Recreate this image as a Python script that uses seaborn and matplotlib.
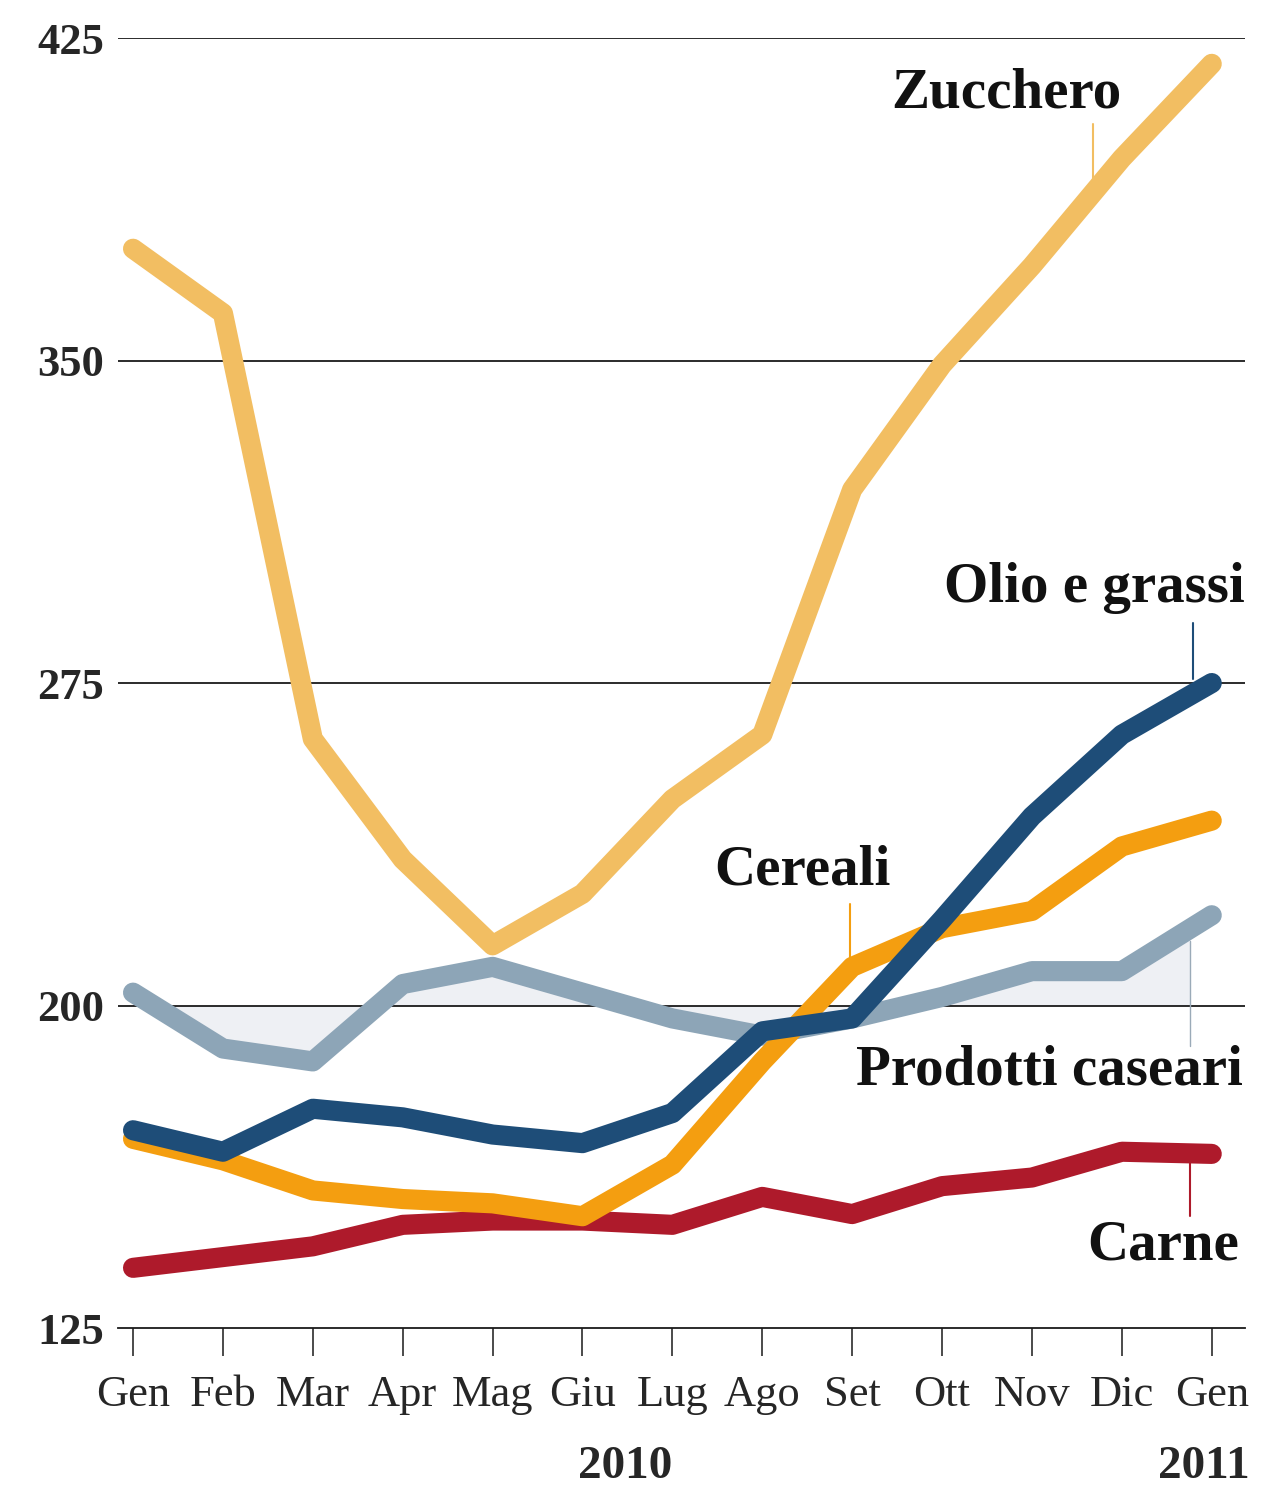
import numpy as np
import pandas as pd
import matplotlib
matplotlib.use("Agg")
import matplotlib.pyplot as plt
from matplotlib.patches import Rectangle
import seaborn as sns

months = ["Gen", "Feb", "Mar", "Apr", "Mag", "Giu", "Lug", "Ago", "Set", "Ott", "Nov", "Dic", "Gen"]
zucchero = [376, 361, 262, 234, 214, 226, 248, 263, 320, 349, 372, 397, 419]
olio = [171, 166, 176, 174, 170, 168, 175, 194, 197, 220, 244, 263, 275]
cereali = [169, 164, 157, 155, 154, 151, 163, 187, 209, 218, 222, 237, 243]
caseari = [203, 190, 187, 205, 209, 203, 197, 193, 197, 202, 208, 208, 221]
carne = [139, 141.5, 144, 149, 150, 150, 149, 155.5, 151.5, 158, 160, 166, 165.5]
yticks = [125, 200, 275, 350, 425]

sns.set_theme(style="white")
plt.rcParams["font.family"] = ["Liberation Serif", "DejaVu Serif"]

fig = plt.figure(figsize=(12.61, 14.86), dpi=100)
ax = fig.add_axes([0.0936, 0.1063, 0.8937, 0.8681])

x = np.arange(len(months))
series = [
    ("Zucchero", zucchero, "#F2BE62", 3),
    ("Carne", carne, "#AE1A2B", 4),
    ("Prodotti caseari", caseari, "#8DA5B7", 5),
    ("Cereali", cereali, "#F49E10", 6),
    ("Olio e grassi", olio, "#1E4D78", 7),
]

# fill between caseari and 200
fill = ax.fill_between(x, caseari, 200, color="#EEF0F4", zorder=1, linewidth=0)
fill.set_clip_path(Rectangle((-1, 0), 12.76, 600, transform=ax.transData))

for name, vals, col, z in series:
    df = pd.DataFrame({"x": x, "y": vals})
    sns.lineplot(data=df, x="x", y="y", ax=ax, color=col, linewidth=14.5,
                 zorder=z, solid_capstyle="round", solid_joinstyle="round")
    ax.lines[-1].set_clip_on(False)

# gridlines
for yv in yticks[1:]:
    ax.axhline(yv, color="#1a1a1a", linewidth=1.3, zorder=2)

ax.set_xlim(-0.167, 12.37)
ax.set_ylim(125, 425)
for s in ["top", "right", "left"]:
    ax.spines[s].set_visible(False)
ax.spines["bottom"].set_color("#1a1a1a")
ax.spines["bottom"].set_linewidth(1.3)

ax.set_xticks(x)
ax.set_xticklabels(months, fontsize=32)
ax.set_yticks(yticks)
ax.set_yticklabels([str(v) for v in yticks], fontsize=32, fontweight="bold")
ax.tick_params(axis="x", length=20, width=1.1, color="#1a1a1a", pad=14, direction="out", bottom=True)
ax.tick_params(axis="y", length=0, pad=10)
ax.set_xlabel("")
ax.set_ylabel("")

# series labels
lab = dict(fontsize=41, fontweight="bold", color="#111111")
ax.text(9.72, 412, "Zucchero", ha="center", va="center", **lab)
ax.text(12.37, 297, "Olio e grassi", ha="right", va="center", **lab)
ax.text(7.45, 231.5, "Cereali", ha="center", va="center", **lab)
ax.text(12.35, 185, "Prodotti caseari", ha="right", va="center", **lab)
ax.text(12.31, 144.3, "Carne", ha="right", va="center", **lab)

# leader lines
ax.plot([10.68, 10.68], [405, 390], color="#F2BE62", lw=1.5, zorder=3)
ax.plot([7.98, 7.98], [223.5, 211], color="#F49E10", lw=1.5, zorder=3)
ax.plot([11.79, 11.79], [289, 276], color="#1E4D78", lw=1.5, zorder=3)
ax.plot([11.76, 11.76], [215, 190.5], color="#9AAAB8", lw=1.0, zorder=3)
ax.plot([11.76, 11.76], [165, 151], color="#AE1A2B", lw=1.5, zorder=3)

# years
tr = ax.get_xaxis_transform()
ax.text(5.47, -0.108, "2010", transform=tr, ha="center", va="center", fontsize=34, fontweight="bold")
ax.text(12.42, -0.108, "2011", transform=tr, ha="right", va="center", fontsize=34, fontweight="bold")

fig.savefig("out.png", dpi=100, facecolor="white")
